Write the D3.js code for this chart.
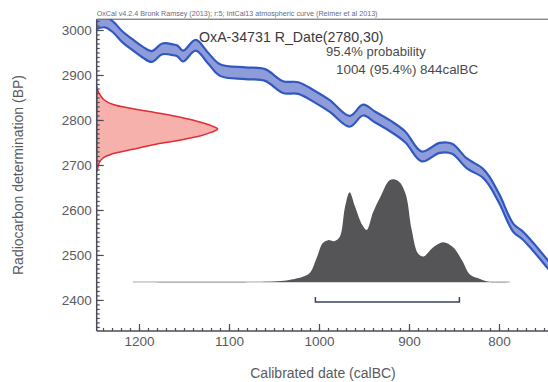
<!DOCTYPE html>
<html>
<head>
<meta charset="utf-8">
<script src="https://cdn.jsdelivr.net/npm/d3@7"></script>
<style>
  body { margin: 0; background: #fff; }
  svg { display: block; font-family: "Liberation Sans", Arial, sans-serif; }
</style>
</head>
<body>
<script>
// calibration curve (IntCal13)
const calYear = [1252, 1238, 1229, 1218, 1207, 1196, 1186, 1174, 1162, 1157, 1151, 1137, 1123, 1110, 1082, 1060, 1040, 1023, 1004, 988, 966, 951, 938, 921, 904, 886, 866, 852, 836, 818, 810, 799, 784, 774, 762, 746, 730];
const calBP   = [3012, 3018, 3007, 2984, 2967, 2951, 2941, 2958, 2956, 2953, 2942, 2966, 2937, 2911, 2904, 2900, 2873, 2871, 2851, 2831, 2797, 2822, 2807, 2787, 2762, 2719, 2738, 2736, 2704, 2682, 2662, 2622, 2560, 2544, 2518, 2480, 2445];
const calErr  = [13, 12, 12, 12, 12, 12, 12, 12, 12, 12, 12, 12, 12, 13, 13, 13, 13, 13, 13, 13, 12, 12, 12, 12, 12, 11, 11, 11, 11, 10, 10, 10, 9, 9, 9, 9, 9];

// radiocarbon measurement 2780 +/- 30
const rDateBP   = [2875, 2865, 2855, 2845, 2835, 2825, 2815, 2805, 2795, 2787, 2780, 2773, 2765, 2755, 2745, 2735, 2725, 2715, 2705, 2695, 2685];
const rDateProb = [0, 0.01, 0.03, 0.06, 0.13, 0.30, 0.52, 0.71, 0.86, 0.95, 1, 0.95, 0.86, 0.68, 0.47, 0.30, 0.13, 0.05, 0.02, 0.01, 0];

// calibrated probability
const postYear = [1207, 1068, 1043, 1027, 1018, 1010, 1002, 996, 990, 983, 977, 971, 966, 960, 952, 947, 940, 932, 921, 912, 904, 897, 890, 884, 873, 862, 851, 841, 832, 821, 810, 788];
const postProb = [0, 0, 0.01, 0.03, 0.05, 0.09, 0.25, 0.38, 0.41, 0.40, 0.44, 0.74, 0.88, 0.74, 0.56, 0.51, 0.68, 0.83, 1.0, 0.99, 0.87, 0.51, 0.28, 0.25, 0.34, 0.39, 0.34, 0.21, 0.07, 0.03, 0, 0];

const rangeFrom = 1004, rangeTo = 844;
const yTicks = [2400, 2500, 2600, 2700, 2800, 2900, 3000];
const xTicks = [1200, 1100, 1000, 900, 800];

const width = 548, height = 382;
const svg = d3.select("body").append("svg")
  .attr("width", width).attr("height", height);

const x = d3.scaleLinear().domain([1247, 740]).range([96.7, 553]);
const y = d3.scaleLinear().domain([2331, 3024]).range([331, 19.2]);
const plotLeft = x(1247), plotRight = x(740), plotTop = y(3024), plotBottom = y(2331);

svg.append("defs").append("clipPath").attr("id", "plot")
  .append("rect").attr("x", plotLeft).attr("y", plotTop)
  .attr("width", plotRight - plotLeft).attr("height", plotBottom - plotTop);

const plot = svg.append("g").attr("clip-path", "url(#plot)");

// calibration band
const cal = calYear.map((d, i) => ({ year: d, bp: calBP[i], err: calErr[i] }));
plot.append("path")
  .datum(cal)
  .attr("fill", "#8e9dda")
  .attr("stroke", "#3158c0")
  .attr("stroke-width", 2.2)
  .attr("stroke-linejoin", "round")
  .attr("d", d3.area()
    .curve(d3.curveCatmullRom)
    .x(d => x(d.year))
    .y0(d => y(d.bp - d.err))
    .y1(d => y(d.bp + d.err)));

// radiocarbon date on the y axis
const rAmp = d3.scaleLinear().domain([0, 1]).range([0, 121]);
const rd = rDateBP.map((d, i) => ({ bp: d, p: rDateProb[i] }));
plot.append("path")
  .datum(rd)
  .attr("fill", "#f6b1ac")
  .attr("stroke", "#e62b35")
  .attr("stroke-width", 1.5)
  .attr("d", d3.area()
    .curve(d3.curveCatmullRom)
    .y(d => y(d.bp))
    .x0(plotLeft)
    .x1(d => plotLeft + rAmp(d.p)));

// calibrated distribution
const baseBP = 2440;
const base = y(baseBP);
const pAmp = d3.scaleLinear().domain([0, 1]).range([0, 102]);
const post = postYear.map((d, i) => ({ year: d, p: postProb[i] }));

plot.append("line")
  .attr("x1", x(postYear[0])).attr("x2", x(postYear[postYear.length - 1]))
  .attr("y1", base).attr("y2", base)
  .attr("stroke", "#a8aab4").attr("stroke-width", 1);

plot.append("path")
  .datum(post)
  .attr("fill", "#555558")
  .attr("d", d3.area()
    .curve(d3.curveCatmullRom)
    .x(d => x(d.year))
    .y0(base)
    .y1(d => base - pAmp(d.p)));

// 95.4% range bracket
const by = base + 20;
plot.append("path")
  .attr("fill", "none")
  .attr("stroke", "#3c4260")
  .attr("stroke-width", 1.5)
  .attr("d", `M${x(rangeFrom)},${by - 5}V${by}H${x(rangeTo)}V${by - 5}`);

// axes
const axisColor = "#4a4c58";
const textColor = "#5a5a5e";
const fmt = d3.format("d");

const yMinor = svg.append("g").attr("transform", `translate(${plotLeft},0)`)
  .call(d3.axisLeft(y).tickValues(d3.range(2340, 3021, 10)).tickSize(-3).tickFormat(""));
const yMajor = svg.append("g").attr("transform", `translate(${plotLeft},0)`)
  .call(d3.axisLeft(y).tickValues(yTicks).tickFormat(fmt).tickSize(-7).tickSizeOuter(0).tickPadding(5));

const xMinor = svg.append("g").attr("transform", `translate(0,${plotBottom})`)
  .call(d3.axisBottom(x).tickValues(d3.range(1240, 740, -10)).tickSize(-3).tickFormat(""));
const xMajor = svg.append("g").attr("transform", `translate(0,${plotBottom})`)
  .call(d3.axisBottom(x).tickValues(xTicks).tickFormat(fmt).tickSize(-7).tickSizeOuter(0).tickPadding(5));

[yMinor, yMajor, xMinor, xMajor].forEach(g => {
  g.selectAll("path").attr("stroke", axisColor).attr("stroke-width", 1.5);
  g.selectAll("line").attr("stroke", axisColor).attr("stroke-width", 1.2);
  g.selectAll("text").attr("fill", textColor).style("font-size", "13.5px");
});
yMinor.select(".domain").remove();
xMinor.select(".domain").remove();
yMajor.select(".domain").attr("d", `M0,${plotTop}V${plotBottom}`);
xMajor.select(".domain").attr("d", `M${plotLeft},0H${plotRight}`);

// top frame line
svg.append("line")
  .attr("x1", plotLeft).attr("x2", plotRight).attr("y1", plotTop).attr("y2", plotTop)
  .attr("stroke", "#55575f").attr("stroke-width", 1);

// header and titles
svg.append("text")
  .attr("x", plotLeft).attr("y", 16)
  .attr("fill", "#6a6a80")
  .style("font-size", "7.2px")
  .text("OxCal v4.2.4 Bronk Ramsey (2013); r:5; IntCal13 atmospheric curve (Reimer et al 2013)");

svg.append("text")
  .attr("x", 199).attr("y", 42)
  .attr("fill", "#3a3a3e")
  .style("font-size", "14.2px")
  .text("OxA-34731 R_Date(2780,30)");

svg.append("text")
  .attr("x", 326).attr("y", 56)
  .attr("fill", "#4a4a4e")
  .style("font-size", "13px")
  .text("95.4% probability");

svg.append("text")
  .attr("x", 336).attr("y", 74)
  .attr("fill", "#4a4a4e")
  .style("font-size", "13.4px")
  .text("1004 (95.4%) 844calBC");

svg.append("text")
  .attr("x", 323).attr("y", 378)
  .attr("text-anchor", "middle")
  .attr("fill", textColor)
  .style("font-size", "14px")
  .text("Calibrated date (calBC)");

svg.append("text")
  .attr("transform", "translate(23,175) rotate(-90)")
  .attr("text-anchor", "middle")
  .attr("fill", textColor)
  .style("font-size", "14px")
  .text("Radiocarbon determination (BP)");
</script>
</body>
</html>
